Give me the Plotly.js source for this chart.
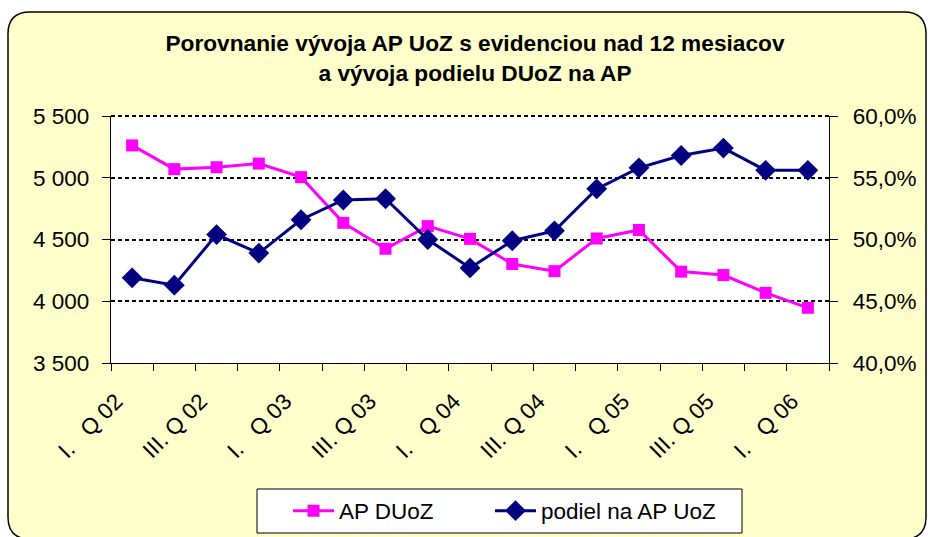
<!DOCTYPE html>
<html>
<head>
<meta charset="utf-8">
<script src="https://cdn.plot.ly/plotly-3.0.1.min.js"></script>
<style>html,body{margin:0;padding:0;background:#fff;}#chart{width:928px;height:537px;}</style>
</head>
<body>
<div id="chart"></div>
<script>
// ---- data ----
var quarters = ["I.  Q 02","II. Q 02","III. Q 02","IV. Q 02",
                "I.  Q 03","II. Q 03","III. Q 03","IV. Q 03",
                "I.  Q 04","II. Q 04","III. Q 04","IV. Q 04",
                "I.  Q 05","II. Q 05","III. Q 05","IV. Q 05",
                "I.  Q 06"];
var shownLabels = ["I.   Q 02","","III. Q 02","",
                   "I.   Q 03","","III. Q 03","",
                   "I.   Q 04","","III. Q 04","",
                   "I.   Q 05","","III. Q 05","",
                   "I.   Q 06"];
var apDUoZ = [5262, 5070, 5085, 5115, 5005, 4635, 4425, 4608, 4505, 4302, 4244, 4508, 4577, 4240, 4212, 4068, 3947];
var podiel = [46.9, 46.3, 50.4, 48.9, 51.6, 53.2, 53.3, 50.0, 47.7, 49.9, 50.7, 54.1, 55.8, 56.8, 57.4, 55.6, 55.6];
var seriesNames = ["AP DUoZ", "podiel na AP UoZ"];
var titleText = "Porovnanie vývoja AP UoZ s evidenciou nad 12 mesiacov<br>a vývoja podielu DUoZ na AP";

// ---- layout helpers ----
var W = 928, H = 537;
var M = {l: 111, r: 99, t: 116, b: 174, autoexpand: false};
var pw = W - M.l - M.r, ph = H - M.t - M.b;
function fx(px){ return (px - M.l) / pw; }
function fy(py){ return (H - M.b - py) / ph; }
function pt(px, py){ return fx(px).toFixed(5) + "," + fy(py).toFixed(5); }
var bx0 = 8, by0 = 12, bx1 = 926, by1 = 539, rr = 22;
var framePath = "M" + pt(bx0, by0 + rr) +
  " Q" + pt(bx0, by0) + " " + pt(bx0 + rr, by0) +
  " L" + pt(bx1 - rr, by0) +
  " Q" + pt(bx1, by0) + " " + pt(bx1, by0 + rr) +
  " L" + pt(bx1, by1 - rr) +
  " Q" + pt(bx1, by1) + " " + pt(bx1 - rr, by1) +
  " L" + pt(bx0 + rr, by1) +
  " Q" + pt(bx0, by1) + " " + pt(bx0, by1 - rr) + " Z";

var FONT = "Liberation Sans, Arial, sans-serif";
var FS = 22.5;

var traces = [
  {
    x: quarters, y: apDUoZ, name: seriesNames[0], type: "scatter", mode: "lines+markers",
    yaxis: "y", legend: "legend",
    line: {color: "#FF00FF", width: 3},
    marker: {symbol: "square", size: 12, color: "#FF00FF"}
  },
  {
    x: quarters, y: podiel, name: seriesNames[1], type: "scatter", mode: "lines+markers",
    yaxis: "y2", legend: "legend2",
    line: {color: "#000080", width: 3},
    marker: {symbol: "diamond", size: 16, color: "#000080"}
  }
];

var legendCommon = {
  orientation: "h",
  xanchor: "left",
  y: fy(511), yanchor: "middle",
  bgcolor: "rgba(0,0,0,0)", borderwidth: 0,
  font: {family: FONT, size: FS, color: "#000"},
  itemwidth: 41
};

var layout = {
  width: W, height: H,
  margin: M,
  paper_bgcolor: "#FFFFFF",
  plot_bgcolor: "rgba(0,0,0,0)",
  separators: ", ",
  font: {family: FONT, size: FS, color: "#000"},
  showlegend: true,
  title: {
    text: titleText,
    font: {family: FONT, size: 22.7, color: "#000", weight: "bold"},
    x: 475 / W, xanchor: "center", xref: "container",
    y: 1 - 51 / H, yanchor: "middle", yref: "container"
  },
  xaxis: {
    type: "category",
    tickvals: quarters, ticktext: shownLabels,
    tickson: "boundaries",
    tickangle: -45,
    automargin: false,
    ticks: "outside", ticklen: 7, tickcolor: "#000", tickwidth: 1,
    ticklabelstandoff: 15, ticklabelshift: -16,
    showline: true, linecolor: "#000", linewidth: 1.3,
    showgrid: false, zeroline: false,
    tickfont: {family: FONT, size: 22.5, color: "#000"},
    range: [-0.5, quarters.length - 0.5]
  },
  yaxis: {
    range: [3500, 5500], dtick: 500, tick0: 3500,
    tickformat: ",",
    automargin: false,
    ticks: "outside", ticklen: 8, tickcolor: "#000",
    showline: true, linecolor: "#000", linewidth: 1.3,
    showgrid: true, gridcolor: "#000", gridwidth: 2, griddash: "4px,3px",
    zeroline: false, ticklabelstandoff: 8,
    tickfont: {family: FONT, size: FS, color: "#000"}
  },
  yaxis2: {
    range: [40, 60], dtick: 5, tick0: 40,
    tickformat: ".1f", ticksuffix: "%",
    overlaying: "y", side: "right",
    automargin: false,
    ticks: "outside", ticklen: 8, tickcolor: "#000",
    showline: true, linecolor: "#000", linewidth: 1.3,
    showgrid: false, zeroline: false, ticklabelstandoff: 10,
    tickfont: {family: FONT, size: FS, color: "#000"}
  },
  legend: Object.assign({}, legendCommon, {x: fx(288)}),
  legend2: Object.assign({}, legendCommon, {x: fx(490)}),
  shapes: [
    {type: "path", xref: "paper", yref: "paper", path: framePath,
     fillcolor: "#FFFFCC", line: {color: "#000", width: 1.5}, layer: "below"},
    {type: "rect", xref: "paper", yref: "paper", x0: 0, x1: 1, y0: 0, y1: 1,
     fillcolor: "#FFFFFF", line: {width: 0}, layer: "below"},
    {type: "line", xref: "paper", yref: "paper", x0: 0, x1: 1, y0: 1, y1: 1,
     line: {color: "#000", width: 2, dash: "4px,3px"}, layer: "below"},
    {type: "rect", xref: "paper", yref: "paper",
     x0: fx(257), x1: fx(742), y0: fy(533), y1: fy(489),
     fillcolor: "#FFFFFF", line: {color: "#000", width: 1}, layer: "below"}
  ]
};

Plotly.newPlot("chart", traces, layout, {displayModeBar: false, staticPlot: true});
</script>
</body>
</html>
